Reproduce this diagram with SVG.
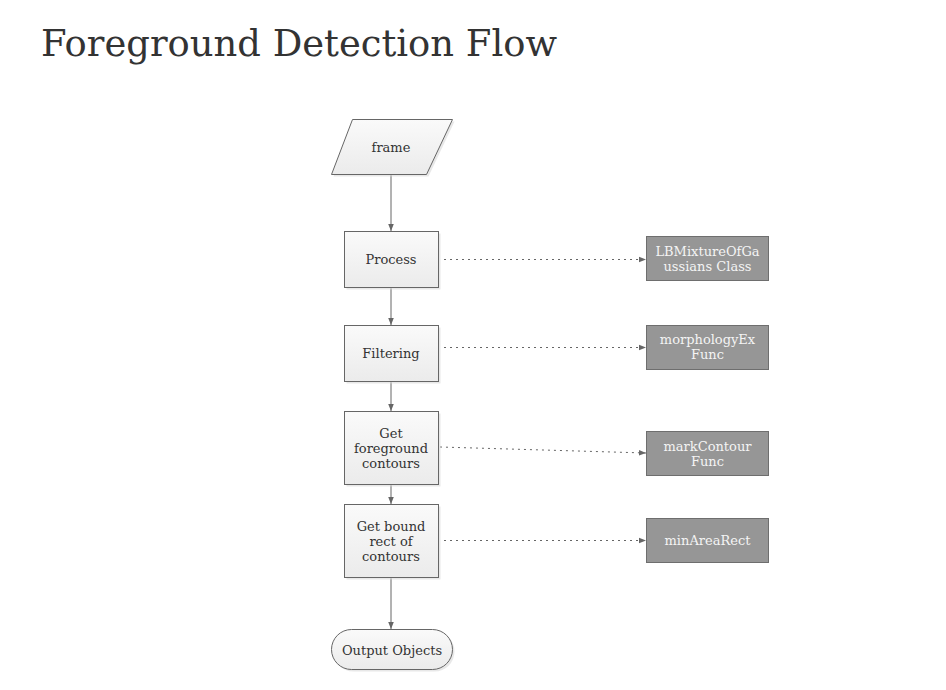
<svg xmlns="http://www.w3.org/2000/svg" width="946" height="690" viewBox="0 0 946 690">
<defs>
<linearGradient id="g" x1="0" y1="0" x2="0" y2="1">
<stop offset="0" stop-color="#fafafa"/>
<stop offset="1" stop-color="#ebebeb"/>
</linearGradient>
<marker id="a" viewBox="0 0 10 10" refX="10" refY="5" markerWidth="7" markerHeight="7" markerUnits="userSpaceOnUse" orient="auto">
<path d="M0,1 L10,5 L0,9 Z" fill="#666"/>
</marker>
</defs>
<style>
.t{font-family:"DejaVu Serif",serif;font-size:13px;fill:#333;text-anchor:middle}
.w{font-family:"DejaVu Serif",serif;font-size:13px;fill:#f4f4f4;text-anchor:middle}
.n{fill:url(#g);stroke:#666;stroke-width:1}
.s{fill:#d8d8d8;opacity:0.6}
.k{fill:#969696;stroke:#6e6e6e;stroke-width:1}
.c{fill:none;stroke:#666;stroke-width:1}
.d{fill:none;stroke:#666;stroke-width:1;stroke-dasharray:2,4}
</style>
<rect width="946" height="690" fill="#fff"/>
<text x="41" y="56" font-family="DejaVu Serif,serif" font-size="37" fill="#333" textLength="516" lengthAdjust="spacingAndGlyphs">Foreground Detection Flow</text>

<g id="connectors">
<line class="c" x1="391" y1="174" x2="391" y2="231" marker-end="url(#a)"/>
<line class="c" x1="391" y1="287" x2="391" y2="325" marker-end="url(#a)"/>
<line class="c" x1="391" y1="381" x2="391" y2="411" marker-end="url(#a)"/>
<line class="c" x1="391" y1="484" x2="391" y2="504" marker-end="url(#a)"/>
<line class="c" x1="391" y1="577" x2="391" y2="629" marker-end="url(#a)"/>
<line class="d" x1="444" y1="259.5" x2="646" y2="259.5" marker-end="url(#a)"/>
<line class="d" x1="444" y1="347.5" x2="646" y2="347.5" marker-end="url(#a)"/>
<line class="d" x1="440" y1="447" x2="646" y2="453" marker-end="url(#a)"/>
<line class="d" x1="444" y1="540.5" x2="646" y2="540.5" marker-end="url(#a)"/>
</g>

<g id="frame">
<polygon class="s" points="354.5,121.5 454.5,121.5 428.5,176.5 333.5,176.5"/>
<polygon class="n" points="352.5,119.5 452.5,119.5 426.5,174.5 331.5,174.5"/>
<text class="t" x="391" y="152">frame</text>
</g>

<g id="process">
<rect class="s" x="346.5" y="233.5" width="94" height="56"/>
<rect class="n" x="344.5" y="231.5" width="94" height="56"/>
<text class="t" x="391" y="264">Process</text>
</g>

<g id="filtering">
<rect class="s" x="346.5" y="327.5" width="94" height="56"/>
<rect class="n" x="344.5" y="325.5" width="94" height="56"/>
<text class="t" x="391" y="358">Filtering</text>
</g>

<g id="getforeground">
<rect class="s" x="346.5" y="413.5" width="94" height="73"/>
<rect class="n" x="344.5" y="411.5" width="94" height="73"/>
<text class="t" x="391" y="438">Get</text>
<text class="t" x="391" y="453">foreground</text>
<text class="t" x="391" y="468">contours</text>
</g>

<g id="getbound">
<rect class="s" x="346.5" y="506.5" width="94" height="73"/>
<rect class="n" x="344.5" y="504.5" width="94" height="73"/>
<text class="t" x="391" y="531">Get bound</text>
<text class="t" x="391" y="546">rect of</text>
<text class="t" x="391" y="561">contours</text>
</g>

<g id="output">
<rect class="s" x="333.5" y="631.5" width="121" height="40" rx="20" ry="20"/>
<rect class="n" x="331.5" y="629.5" width="121" height="40" rx="20" ry="20"/>
<text class="t" x="392" y="655">Output Objects</text>
</g>

<g id="lbmixture">
<rect class="k" x="646.5" y="236.5" width="122" height="44"/>
<text class="w" x="707.5" y="256">LBMixtureOfGa</text>
<text class="w" x="707.5" y="271">ussians Class</text>
</g>

<g id="morphology">
<rect class="k" x="646.5" y="325.5" width="122" height="44"/>
<text class="w" x="707.5" y="344">morphologyEx</text>
<text class="w" x="707.5" y="359">Func</text>
</g>

<g id="markcontour">
<rect class="k" x="646.5" y="431.5" width="122" height="44"/>
<text class="w" x="707.5" y="451">markContour</text>
<text class="w" x="707.5" y="466">Func</text>
</g>

<g id="minarearect">
<rect class="k" x="646.5" y="518.5" width="122" height="44"/>
<text class="w" x="707.5" y="545">minAreaRect</text>
</g>
</svg>
